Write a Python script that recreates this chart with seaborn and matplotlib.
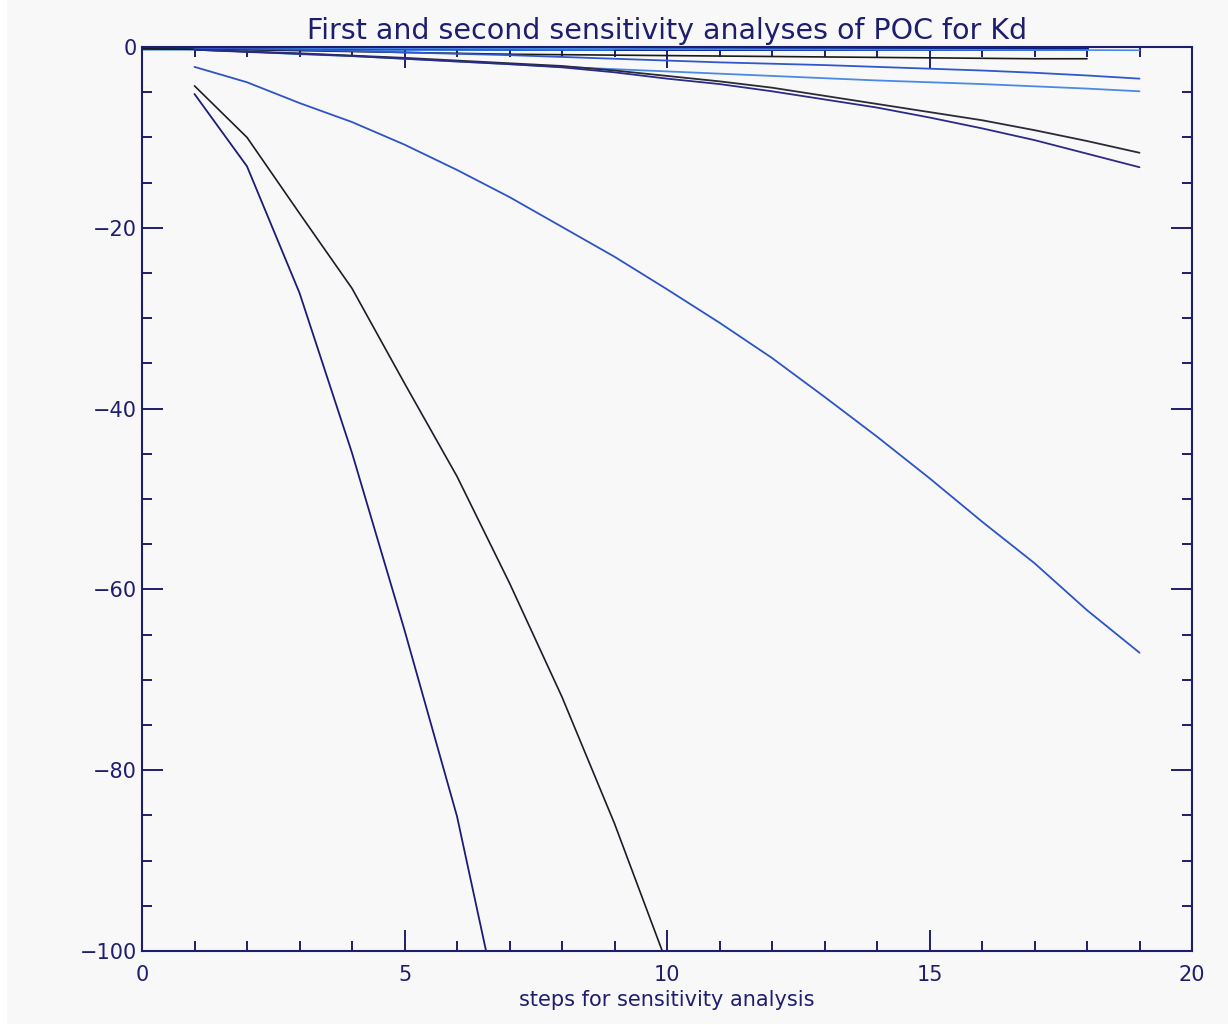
import numpy as np
import pandas as pd
import matplotlib
matplotlib.use("Agg")
import matplotlib.pyplot as plt
import seaborn as sns
from matplotlib.ticker import MultipleLocator
from matplotlib.patches import Rectangle

# ---------------- data ----------------
title = "First and second sensitivity analyses of POC for Kd"
xlabel = "steps for sensitivity analysis"

steps_a = [1, 2, 3, 4, 5, 6, 7]
sens_a = [-5.2, -13.2, -27.2, -44.9, -64.5, -85.1, -112.0]

steps_b = [1, 2, 3, 4, 5, 6, 7, 8, 9, 10]
sens_b = [-4.3, -10.0, -18.4, -26.7, -37.2, -47.5, -59.3, -71.9, -85.9, -101.4]

steps_19 = list(range(1, 20))
sens_c = [-2.2, -3.9, -6.2, -8.3, -10.8, -13.6, -16.6, -19.9, -23.2, -26.8,
          -30.5, -34.4, -38.7, -43.1, -47.7, -52.5, -57.1, -62.3, -67.0]
sens_d = [-0.3, -0.5, -0.7, -0.95, -1.2, -1.5, -1.8, -2.1, -2.6, -3.2,
          -3.8, -4.5, -5.4, -6.3, -7.2, -8.1, -9.2, -10.4, -11.7]
sens_e = [-0.3, -0.55, -0.75, -1.0, -1.3, -1.6, -1.9, -2.25, -2.8, -3.5,
          -4.1, -4.9, -5.8, -6.7, -7.8, -9.0, -10.3, -11.8, -13.3]
sens_f = [-0.1, -0.2, -0.3, -0.45, -0.6, -0.75, -0.9, -1.1, -1.3, -1.5,
          -1.7, -1.85, -2.0, -2.2, -2.4, -2.6, -2.85, -3.15, -3.5]
sens_g = [-0.3, -0.5, -0.8, -1.0, -1.3, -1.6, -1.9, -2.2, -2.45, -2.7,
          -2.95, -3.2, -3.45, -3.7, -3.9, -4.1, -4.35, -4.6, -4.9]
sens_h = [-0.05, -0.07, -0.1, -0.12, -0.14, -0.16, -0.18, -0.2, -0.21, -0.23,
          -0.24, -0.26, -0.27, -0.29, -0.3, -0.31, -0.33, -0.34, -0.36]

steps_18 = list(range(0, 19))
sens_i = [-0.15, -0.15, -0.16, -0.17, -0.18, -0.18, -0.19, -0.2, -0.2, -0.2,
          -0.2, -0.2, -0.2, -0.2, -0.2, -0.2, -0.2, -0.2, -0.2]
steps_k = [9, 10, 11, 12, 13, 14, 15, 16, 17, 18]
sens_k = [-0.2, -0.2, -0.2, -0.2, -0.2, -0.2, -0.2, -0.2, -0.2, -0.2]
sens_j = [-0.2, -0.25, -0.3, -0.4, -0.5, -0.6, -0.7, -0.8, -0.85, -0.9,
          -0.95, -1.0, -1.05, -1.1, -1.15, -1.2, -1.25, -1.3, -1.3]

# ---------------- style ----------------
navy = "#1e1e6e"
bg = "#f8f8f8"

sns.set_theme(style="white")
plt.rcParams["font.family"] = ["DejaVu Sans"]

fig = plt.figure(figsize=(12.28, 10.25), dpi=100, facecolor="white")
fig.patches.append(Rectangle((7 / 1228, 1 / 1025), 1 - 7 / 1228, 1 - 1 / 1025,
                             transform=fig.transFigure, facecolor=bg,
                             edgecolor="none", zorder=-10))
ax = fig.add_axes([142 / 1228, 1 - 951 / 1025, (1192 - 142) / 1228, (951 - 47) / 1025])
ax.set_facecolor(bg)

series = [
    (steps_18, sens_i, "#0a52d2", 3.0),
    (steps_k, sens_k, "#05208a", 2.6),
    (steps_18, sens_j, "#1a1a1a", 1.2),
    (steps_19, sens_h, "#4a8ae6", 1.2),
    (steps_19, sens_g, "#4a8ae6", 1.3),
    (steps_19, sens_f, "#3058cc", 1.3),
    (steps_19, sens_d, "#2a2a38", 1.3),
    (steps_19, sens_e, "#2a2a8a", 1.3),
    (steps_19, sens_c, "#2c54c8", 1.3),
    (steps_b, sens_b, "#1c1c28", 1.2),
    (steps_a, sens_a, "#1c1c78", 1.3),
]
for xs, ys, col, lw in series:
    df = pd.DataFrame({"step": xs, "value": ys})
    sns.lineplot(data=df, x="step", y="value", color=col, linewidth=lw,
                 ax=ax, legend=False, estimator=None, sort=False)

ax.set_xlim(0, 20)
ax.set_ylim(-100, 0)
ax.xaxis.set_major_locator(MultipleLocator(5))
ax.xaxis.set_minor_locator(MultipleLocator(1))
ax.yaxis.set_major_locator(MultipleLocator(20))
ax.yaxis.set_minor_locator(MultipleLocator(5))
ax.tick_params(which="both", direction="in", top=True, right=True,
               bottom=True, left=True, color=navy, width=1.4,
               labelcolor=navy, labelsize=15)
ax.tick_params(which="major", length=15)
ax.tick_params(which="minor", length=7.5)
ax.tick_params(axis="x", which="major", pad=10)
for s in ax.spines.values():
    s.set_color(navy)
    s.set_linewidth(1.5)

ax.set_xlabel(xlabel, color=navy, fontsize=15, labelpad=4)
ax.set_ylabel("")
ax.set_title(title, color=navy, fontsize=20.5, pad=6)

fig.savefig("out.png", dpi=100, facecolor="white")
